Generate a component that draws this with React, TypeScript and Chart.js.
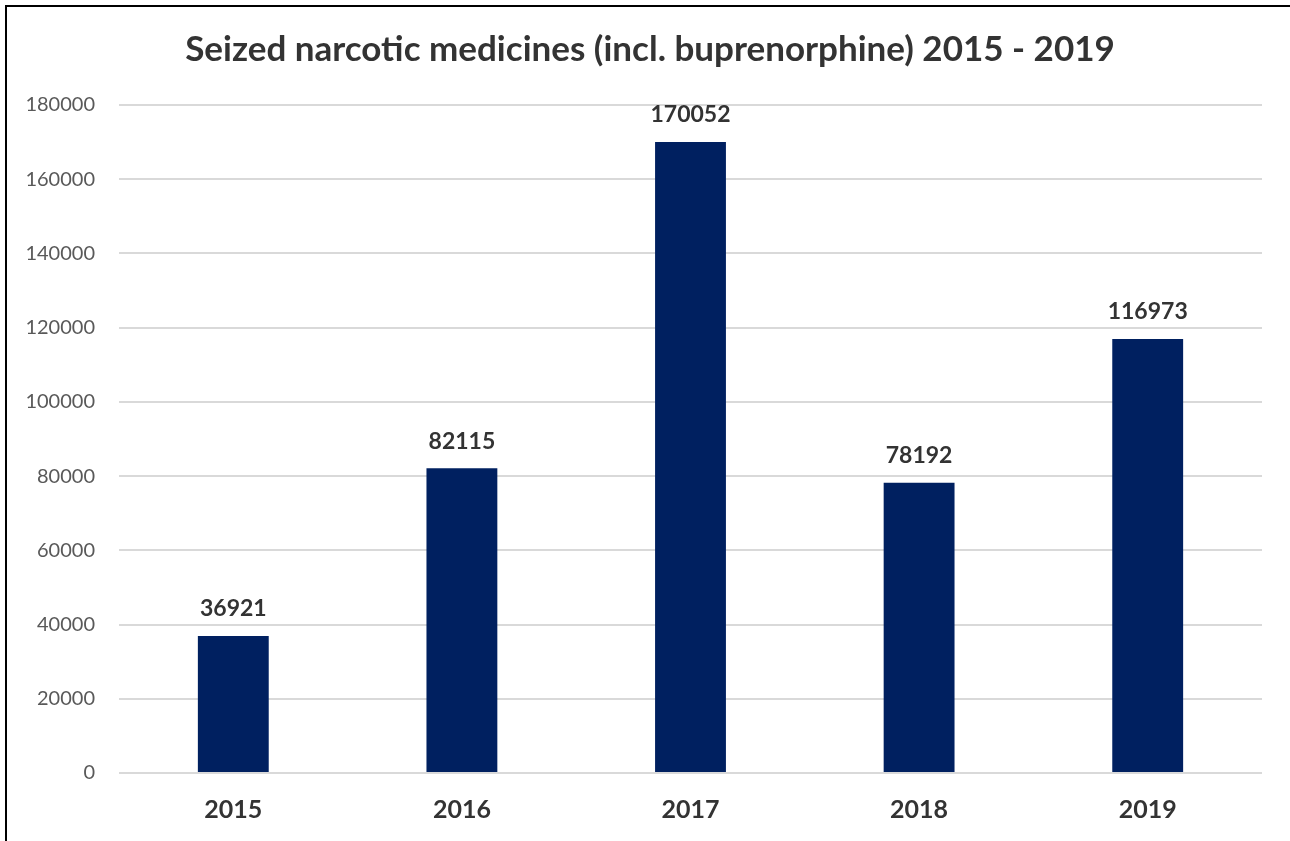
import React, { useEffect, useRef } from "react";
import { Chart, registerables } from "chart.js";

Chart.register(...registerables);

const categories = ["2015", "2016", "2017", "2018", "2019"];
const seizedValues = [36921, 82115, 170052, 78192, 116973];
const yTickMax = 180000;
const yTickStep = 20000;
const titleText = "Seized narcotic medicines (incl. buprenorphine) 2015 - 2019";

const FONT = "Lato, 'Open Sans', sans-serif";

export default function App() {
  const ref = useRef<HTMLCanvasElement | null>(null);
  useEffect(() => {
    document.body.style.margin = "0";
    const canvas = ref.current!;
    const titlePlugin = {
      id: "titleDraw",
      afterDraw(chart: any) {
        const ctx = chart.ctx;
        ctx.save();
        ctx.font = `bold 35px ${FONT}`;
        ctx.fillStyle = "#333333";
        ctx.textAlign = "center";
        ctx.textBaseline = "middle";
        ctx.fillText(titleText, 650, 50);
        ctx.restore();
      },
    };
    const labelPlugin = {
      id: "valueLabels",
      afterDatasetsDraw(chart: any) {
        const ctx = chart.ctx;
        const meta = chart.getDatasetMeta(0);
        ctx.save();
        ctx.font = `bold 23px ${FONT}`;
        ctx.fillStyle = "#333333";
        ctx.textAlign = "center";
        ctx.textBaseline = "middle";
        meta.data.forEach((bar: any, i: number) => {
          ctx.fillText(String(chart.data.datasets[0].data[i]), bar.x, bar.y - 27);
        });
        ctx.restore();
      },
    };
    const chart = new Chart(canvas, {
      type: "bar",
      data: {
        labels: categories,
        datasets: [
          {
            data: seizedValues,
            backgroundColor: "#002060",
            categoryPercentage: 1,
            barPercentage: 0.31,
          },
        ],
      },
      options: {
        animation: false,
        responsive: false,
        layout: { padding: { top: 105, left: 0, right: 28, bottom: 0 } },
        plugins: { legend: { display: false }, tooltip: { enabled: false }, title: { display: false } },
        scales: {
          x: {
            grid: { display: false, drawTicks: false },
            border: { display: false },
            ticks: { font: { family: FONT, size: 25, weight: "bold" }, color: "#333333", padding: 22 },
            afterFit(scale: any) {
              scale.height = 68;
            },
          },
          y: {
            min: 0,
            max: yTickMax,
            ticks: {
              stepSize: yTickStep,
              font: { family: FONT, size: 20 },
              color: "#595959",
              padding: 24,
              callback: (v: any) => String(v),
            },
            grid: { color: "#d9d9d9", lineWidth: 2, drawTicks: false },
            border: { display: false },
            afterFit(scale: any) {
              scale.width = 119;
            },
          },
        },
      },
      plugins: [titlePlugin, labelPlugin],
    });
    return () => chart.destroy();
  }, []);
  return (
    <div style={{ position: "relative", width: 1290, height: 841, overflow: "hidden", background: "#fff" }}>
      <div
        style={{
          position: "absolute",
          left: 5,
          top: 5,
          width: 1300,
          height: 900,
          borderLeft: "2px solid #000",
          borderTop: "2px solid #000",
        }}
      />
      <canvas ref={ref} width={1290} height={841} style={{ position: "absolute", left: 0, top: 0 }} />
    </div>
  );
}
